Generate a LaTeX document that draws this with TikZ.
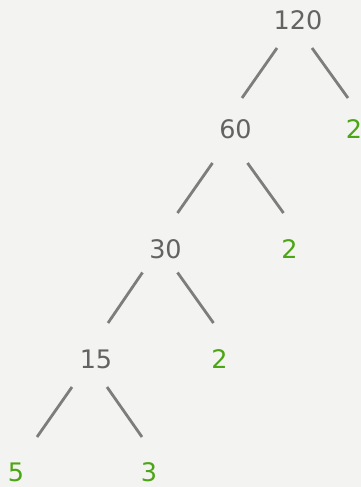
\documentclass[tikz,border=0pt]{standalone}
\usepackage{fontspec}
\setmainfont{DejaVu Sans}
\definecolor{bgpaper}{HTML}{F3F3F1}
\definecolor{numgray}{HTML}{636363}
\definecolor{branchgray}{HTML}{7D7D7D}
\definecolor{primegreen}{HTML}{4CA514}
\tikzset{
  composite/.style={text=numgray, inner sep=0pt, font=\fontsize{25.5}{30}\selectfont},
  prime/.style={composite, text=primegreen},
  branch/.style={draw=branchgray, line width=2.8pt}
}
\begin{document}
\begin{tikzpicture}[x=1pt, y=-1pt]
    \fill[bgpaper] (0,0) rectangle (361,487);
    \useasboundingbox (0,0) rectangle (361,487);
    % factors
    \node[composite] (n120) at (298,20) {120};
    \node[composite] (n60) at (235.5,129.5) {60};
    \node[prime] (p2a) at (354,129.5) {2};
    \node[composite] (n30) at (165.5,249.5) {30};
    \node[prime] (p2b) at (289.5,249.5) {2};
    \node[composite] (n15) at (96,359.5) {15};
    \node[prime] (p2c) at (219.5,359.5) {2};
    \node[prime] (p5) at (16,472) {5};
    \node[prime] (p3) at (149,472) {3};
    % branches
    \draw[branch] ([shift={(-21,28)}]n120.center) -- ([shift={(6.5,-31.5)}]n60.center);
    \draw[branch] ([shift={(14,28)}]n120.center) -- ([shift={(-6,-31.5)}]p2a.center);
    \draw[branch] ([shift={(-23,33.5)}]n60.center) -- ([shift={(12,-36.5)}]n30.center);
    \draw[branch] ([shift={(12,33.5)}]n60.center) -- ([shift={(-6,-36.5)}]p2b.center);
    \draw[branch] ([shift={(-23,23)}]n30.center) -- ([shift={(12,-36.5)}]n15.center);
    \draw[branch] ([shift={(12,23)}]n30.center) -- ([shift={(-6,-36.5)}]p2c.center);
    \draw[branch] ([shift={(-24,27.5)}]n15.center) -- ([shift={(21,-35)}]p5.center);
    \draw[branch] ([shift={(11,27.5)}]n15.center) -- ([shift={(-7,-35)}]p3.center);
\end{tikzpicture}
\end{document}
